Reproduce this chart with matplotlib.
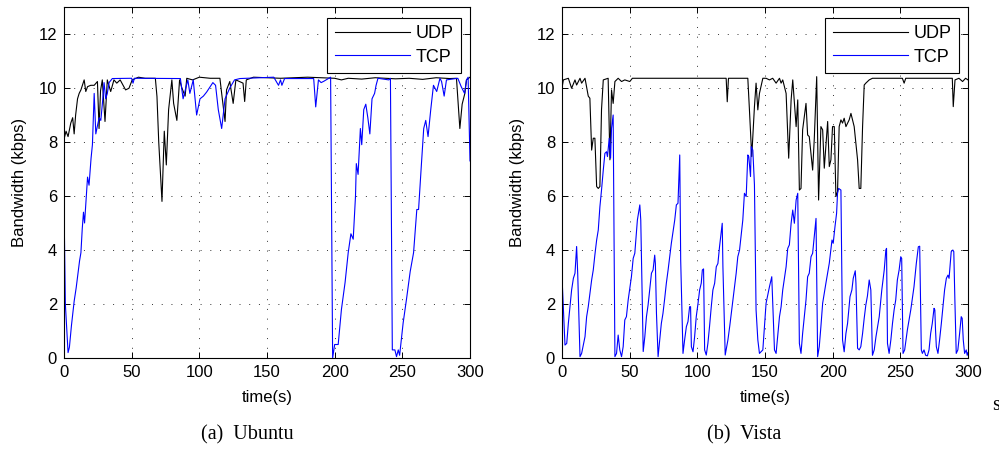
"""UDP vs TCP bandwidth over time -- Ubuntu and Vista side by side."""

import matplotlib
matplotlib.use("Agg")
import matplotlib.pyplot as plt

plt.rcParams["font.family"] = ["Liberation Sans", "DejaVu Sans"]

# (a) Ubuntu -- UDP
ubuntu_udp_t = [0, 1.5, 3, 5, 6.4, 7.5, 8.6, 10, 11.2, 12.5, 14.9, 16.1, 17.4, 19.8,
                22.3, 24.7, 25.9, 27, 28.3, 30.3, 32, 34.5, 36.9, 39, 41.5, 45.5, 48,
                50.4, 55, 60, 67.5, 68.7, 70, 72.4, 74.1, 75.6, 77.3, 79.7, 81, 83.4,
                85.4, 87.1, 89.5, 90.7, 95, 100, 108, 115.2, 116.5, 119, 120.1, 122.5,
                125, 127, 132.3, 133.5, 134.7, 140, 160, 180, 200, 205, 210, 220, 230,
                245, 255, 265, 275, 285, 290, 292.5, 294.2, 296.2, 297.4, 300]
ubuntu_udp_v = [8.1, 8.4, 8.2, 8.7, 8.9, 8.3, 9.0, 9.6, 9.8, 9.93, 10.3, 9.87, 10.05, 10.1,
                10.1, 10.24, 8.5, 9.9, 10.3, 8.76, 10.3, 9.87, 10.3, 10.18, 10.3, 9.93, 9.99,
                10.3, 10.4, 10.36, 10.36, 9.68, 8.0, 5.8, 8.4, 7.15, 9.2, 10.3, 9.43, 8.8,
                10.3, 10.0, 9.7, 10.36, 10.3, 10.4, 10.36, 10.36, 9.8, 8.76, 9.93, 10.24,
                9.43, 10.3, 10.18, 9.5, 10.3, 10.4, 10.36, 10.4, 10.36, 10.3, 10.36, 10.33,
                10.38, 10.34, 10.36, 10.32, 10.38, 10.35, 10.36, 8.5, 9.4, 9.8, 10.3, 10.4]

# (a) Ubuntu -- TCP
ubuntu_tcp_t = [0, 1, 3, 4, 5.5, 7.5, 9, 10, 11.5, 12.5, 13.5, 14.4, 15.2, 16.5, 17.4,
                18.5, 20, 21, 22.3, 23.5, 24.7, 26, 27.2, 28.5, 29.6, 30.8, 32, 33.3,
                35.7, 50, 51, 52, 86, 88, 91.5, 93, 95.5, 98, 100.5, 103, 105.4, 110,
                112, 114, 116.5, 119, 122.5, 126, 130, 155, 158.5, 160, 161, 163, 184.5,
                186, 188, 190, 192, 197, 198.5, 200, 202.6, 205, 207.7, 210, 212, 213.7,
                215.4, 216, 217.3, 219, 220, 221.5, 223, 224.5, 226, 227.6, 229.5, 230.6,
                232, 240, 241.2, 242.6, 244.5, 245.7, 247, 248, 250.6, 253, 255.8, 258.3,
                260.7, 262, 264, 265.8, 267.3, 269, 271, 273, 275.4, 277.8, 279, 280.9,
                282.6, 291, 293.5, 296, 297.4, 298.6, 300]
ubuntu_tcp_v = [5.7, 2.0, 0.2, 0.4, 1.2, 2.1, 2.6, 3.0, 3.6, 3.9, 4.8, 5.4, 5.0, 6.0, 6.7,
                6.4, 7.4, 7.9, 9.8, 8.3, 8.6, 8.9, 8.8, 9.5, 10.2, 9.6, 9.8, 10.2,
                10.35, 10.36, 10.18, 10.36, 10.35, 9.6, 10.3, 9.8, 10.3, 9.0, 9.6, 9.7,
                9.85, 10.2, 10.1, 9.2, 8.5, 9.6, 10.0, 10.3, 10.35, 10.4, 10.1, 10.3, 10.1,
                10.35, 10.35, 9.3, 10.3, 10.2, 10.25, 10.4, 0.0, 0.5, 0.5, 1.8, 2.8, 3.9,
                4.6, 4.4, 6.0, 7.2, 6.8, 8.5, 7.9, 9.2, 9.4, 8.9, 8.3, 9.6, 9.8, 10.1,
                10.36, 10.3, 10.36, 0.3, 0.3, 0.05, 0.3, 0.1, 1.3, 2.15, 3.2, 3.9, 5.5,
                5.5, 7.1, 8.5, 8.8, 8.2, 9.2, 10.1, 9.87, 10.36, 10.24, 9.7, 10.3, 10.36,
                10.05, 9.8, 10.3, 10.4, 7.3]

# (b) Vista -- UDP
vista_udp_t = [0, 1, 4.7, 7.1, 9.6, 10.8, 13.3, 14.5, 17, 19.4, 20.6, 21.9, 23.1, 24.3,
               25.6, 26.8, 28, 29.2, 30.5, 34.1, 35.4, 36.6, 37.8, 39.1, 41.5, 44, 46.4,
               50.1, 52, 80, 100, 121.3, 122.1, 123, 137.3, 138.5, 140.2, 142.2, 143.4,
               144.7, 145.9, 148.4, 150.8, 153.3, 155.7, 158.2, 160.7, 161.9, 163.1, 165.6,
               167.5, 169.3, 170.5, 173, 174.2, 175.4, 176.6, 177.8, 180.3, 181.5, 182.7,
               185.2, 186.4, 188.2, 189.6, 191.3, 192.6, 193.8, 196.3, 197.5, 198.7,
               199.9, 201.2, 202.4, 203.6, 204.8, 206.1, 207.3, 208.5, 209.8, 212.2,
               213.5, 215.9, 218.4, 219.6, 220.8, 222.1, 223.3, 224.5, 227, 229.4, 251.5,
               252.8, 254, 288.4, 289.1, 290.4, 293.3, 296, 298.2, 300]
vista_udp_v = [10.0, 10.3, 10.36, 9.99, 10.3, 10.11, 10.36, 10.18, 10.36, 9.7, 9.62, 7.7,
               8.14, 8.14, 6.35, 6.28, 6.35, 9.2, 10.3, 10.36, 7.34, 9.93, 9.43, 10.24,
               10.36, 10.24, 10.3, 10.24, 10.36, 10.36, 10.36, 10.36, 9.49, 10.36, 10.36,
               9.19, 7.46, 9.31, 10.18, 9.19, 9.8, 10.36, 10.36, 10.3, 10.36, 10.18, 10.36,
               10.18, 10.3, 9.8, 7.4, 9.56, 10.3, 8.57, 9.56, 6.22, 6.28, 8.45, 9.43, 8.26,
               8.2, 6.96, 8.1, 10.42, 5.85, 8.57, 8.45, 7.03, 8.76, 7.09, 7.34, 8.57, 8.57,
               5.98, 6.16, 8.57, 8.82, 8.7, 8.88, 8.57, 8.82, 9.06, 8.57, 7.34, 6.28, 6.28,
               8.57, 10.11, 10.18, 10.3, 10.36, 10.36, 10.18, 10.36, 10.36, 9.31, 10.3,
               10.36, 10.24, 10.36, 10.3]

# (b) Vista -- TCP
vista_tcp_t = [0, 2.2, 3.5, 4.7, 5.9, 7.1, 8.4, 9.6, 10.8, 11.6, 13.3, 14.5, 17, 18.2,
               19.4, 21.9, 23.1, 24.3, 25.6, 26.8, 28, 29.2, 30.5, 31.7, 32.9, 33.6, 34.9,
               35.9, 36.6, 37.8, 39.1, 40.3, 41.5, 42.7, 44, 45.2, 46.4, 47.6, 48.9, 51.3,
               52.6, 53.8, 55.7, 57.5, 58.2, 60, 61.2, 62.4, 63.6, 64.9, 66.1, 67.3, 68.5,
               69, 69.8, 71, 72.2, 73.4, 74.6, 75.9, 77.1, 78.4, 79.6, 80.8, 83.3, 84.5,
               85.7, 87, 87.7, 89.4, 90.6, 91.9, 93.1, 94.3, 95, 95.6, 96.8, 98, 99.2,
               100.5, 101.7, 102.9, 103.7, 104.6, 105.4, 106.6, 107.8, 109, 110.3, 111.5,
               112.8, 114, 115.2, 116.4, 118.4, 118.9, 120.6, 122.6, 124, 126.3, 128.7,
               129.9, 131.2, 133.6, 134.8, 136.1, 137.3, 138, 139.3, 139.8, 141, 142.2,
               143.4, 144.7, 145.9, 148.4, 149.6, 150.8, 153.3, 155, 157, 158.2, 160.7,
               161.9, 163.1, 165.6, 166.8, 168, 169.3, 170.5, 171.7, 173, 174.2, 175.4,
               176.6, 177.8, 180.3, 181.5, 182.7, 184, 185.2, 186.4, 187.7, 188.9, 190.1,
               191.3, 192.6, 195, 197.5, 199.5, 200.4, 201.7, 202.9, 203.6, 204.4, 206.1,
               207.3, 208.5, 209.8, 211, 212.8, 214.2, 215.2, 216.7, 217.2, 218.4, 219.6,
               220.8, 222.1, 223.3, 224.5, 225.7, 227, 228.2, 229.4, 230.7, 232, 234.4,
               236.3, 238.1, 239.3, 239.8, 240.5, 241.7, 243, 244.2, 245.4, 246.6, 247.8,
               249.1, 250.3, 251, 252, 253.2, 255.2, 257.7, 260.1, 261.8, 263.3, 264.3,
               265.5, 266.3, 267.5, 268.7, 270, 271.2, 272.4, 273.6, 274.9, 275.5, 276,
               276.6, 277.8, 279, 280.3, 281.5, 282.7, 284, 285.2, 286, 287.6, 288.8,
               289.5, 290.3, 291.3, 292.5, 293.8, 295, 295.7, 296.5, 297.5, 298.7, 299.4,
               300]
vista_tcp_v = [3.0, 0.48, 0.54, 1.29, 1.9, 2.52, 2.95, 3.14, 4.13, 3.14, 0.05, 0.17, 0.79,
               1.53, 1.9, 2.89, 3.26, 3.82, 4.37, 4.74, 5.6, 6.22, 6.96, 7.58, 7.64, 7.46,
               8.14, 7.4, 8.51, 9.0, 0.05, 0.17, 0.85, 0.3, 0.05, 0.42, 1.41, 1.53, 2.15,
               3.01, 3.69, 3.88, 5.11, 5.67, 5.11, 0.24, 0.79, 1.53, 1.96, 2.58, 3.14, 3.26,
               3.81, 3.5, 1.65, 0.05, 0.67, 1.28, 1.65, 2.21, 2.77, 3.26, 3.75, 4.25, 5.11,
               5.67, 5.73, 7.52, 3.63, 0.17, 0.67, 1.16, 1.35, 1.9, 1.9, 0.42, 0.23, 0.79,
               1.53, 2.02, 2.52, 2.77, 3.26, 3.3, 0.3, 0.11, 0.54, 1.16, 1.9, 2.52, 2.77,
               3.38, 3.5, 4.12, 4.99, 3.38, 0.11, 0.67, 1.2, 2.15, 3.14, 3.75, 4.0, 5.11,
               6.1, 5.98, 7.52, 7.46, 6.72, 7.83, 7.7, 6.41, 1.78, 0.67, 0.17, 0.3, 1.16,
               2.03, 2.64, 3.01, 0.3, 0.17, 1.53, 1.9, 2.52, 3.38, 4.06, 4.19, 4.99, 5.48,
               4.99, 5.85, 6.1, 0.54, 0.17, 0.91, 2.15, 3.01, 3.14, 3.75, 3.88, 4.5, 5.17,
               0.05, 0.42, 1.16, 2.03, 2.77, 3.51, 4.37, 4.25, 4.86, 5.36, 6.1, 6.28, 6.22,
               0.67, 0.23, 0.91, 1.28, 2.27, 2.52, 2.95, 3.23, 2.77, 0.36, 0.3, 0.42, 0.91,
               1.47, 1.96, 2.3, 2.89, 2.52, 0.1, 0.3, 0.79, 1.53, 2.52, 3.26, 4.0, 4.06,
               0.54, 0.17, 0.67, 1.28, 1.78, 2.15, 2.89, 3.26, 3.75, 3.69, 0.17, 0.3, 1.04,
               1.78, 2.64, 3.5, 4.12, 4.14, 0.3, 0.17, 0.3, 0.1, 0.08, 0.3, 0.91, 1.28,
               1.84, 1.78, 1.04, 0.42, 0.17, 0.67, 1.28, 1.9, 2.52, 2.95, 3.07, 2.95, 3.94,
               4.0, 3.94, 2.15, 0.17, 0.3, 0.91, 1.53, 1.47, 0.67, 0.17, 0.3, 0.1, 0.2]

panels = [
    ("(a)  Ubuntu", ubuntu_udp_t, ubuntu_udp_v, ubuntu_tcp_t, ubuntu_tcp_v),
    ("(b)  Vista", vista_udp_t, vista_udp_v, vista_tcp_t, vista_tcp_v),
]

W, H = 999, 459
fig = plt.figure(figsize=(W / 100, H / 100), dpi=100)

ax_left_px = [64, 562]
cap_x_px = [247, 744]
for i, (caption, ut, uv, tt, tv) in enumerate(panels):
    ax = fig.add_axes([ax_left_px[i] / W, (H - 358) / H, 406 / W, 351 / H])
    ax.plot(ut, uv, color="black", lw=0.8, label="UDP")
    ax.plot(tt, tv, color="#0000ff", lw=0.8, label="TCP")
    ax.set_xlim(0, 300)
    ax.set_ylim(0, 13)
    ax.set_xticks([0, 50, 100, 150, 200, 250, 300])
    ax.set_yticks([0, 2, 4, 6, 8, 10, 12])
    ax.tick_params(direction="in", top=True, right=True, length=4, width=0.7,
                   labelsize=12, pad=5)
    ax.grid(True, color="0.2", linestyle=(0, (1, 9)), lw=0.7)
    for s in ax.spines.values():
        s.set_linewidth(0.8)
    ax.set_xlabel("time(s)", fontsize=12, labelpad=7.5)
    ax.set_ylabel("Bandwidth (kbps)", fontsize=12, labelpad=8.5)
    leg = ax.legend(loc="upper right", bbox_to_anchor=(1 - 9 / 406, 1 - 11 / 351),
                    borderaxespad=0, fancybox=False, framealpha=1, edgecolor="black",
                    fontsize=13, handlelength=4.2, handletextpad=0.3,
                    labelspacing=0.35, borderpad=0.4)
    leg.get_frame().set_linewidth(0.8)
    fig.text(cap_x_px[i] / W, (H - 435) / H, caption, ha="center", va="center",
             fontsize=14.5, family=["Liberation Serif", "DejaVu Serif"])

# cut-off caption of a third subfigure at the right edge
fig.text(992 / W, (H - 405) / H, "s", ha="left", va="center",
         fontsize=14.5, family=["Liberation Serif", "DejaVu Serif"])

fig.savefig("out.png", dpi=100)
